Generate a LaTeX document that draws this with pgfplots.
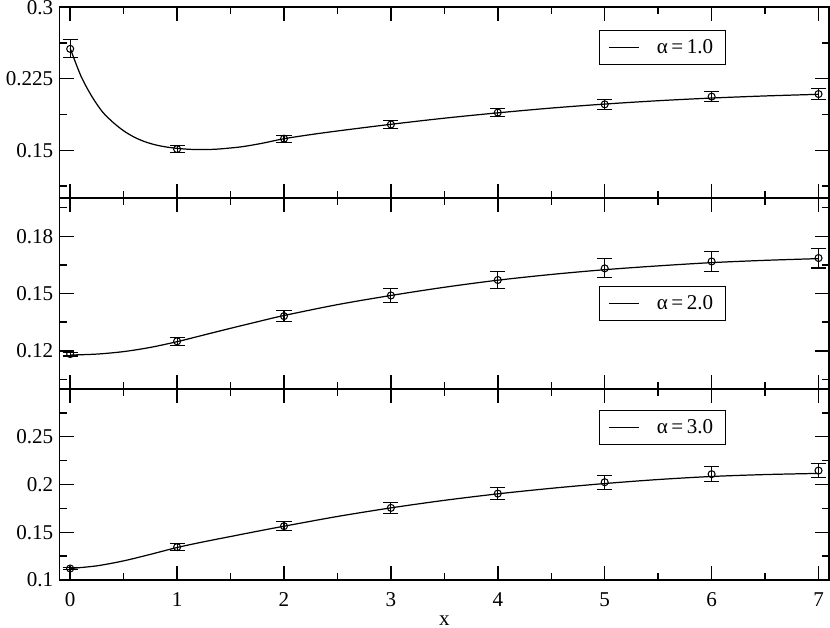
\documentclass[border=0pt]{standalone}
\usepackage{fontspec}
\setmainfont{Liberation Serif}
\usepackage{pgfplots}
\usepackage{pgfplotstable}
\pgfplotsset{compat=1.18}
\usepgfplotslibrary{groupplots}

% measured points with errors, one table per panel
\pgfplotstableread{
x y e
0 0.2563 0.0095
1 0.1514 0.0038
2 0.1622 0.0035
3 0.1771 0.0040
4 0.1896 0.0045
5 0.1982 0.0052
6 0.2063 0.0055
7 0.2090 0.0057
}\dataA
\pgfplotstableread{
x y e
0 0.1183 0.0010
1 0.1250 0.0020
2 0.1382 0.0029
3 0.1490 0.0036
4 0.1571 0.0043
5 0.1632 0.0050
6 0.1668 0.0052
7 0.1686 0.0052
}\dataB
\pgfplotstableread{
x y e
0 0.1120 0.0015
1 0.1344 0.0035
2 0.1564 0.0047
3 0.1755 0.0054
4 0.1905 0.0066
5 0.2024 0.0075
6 0.2108 0.0080
7 0.2146 0.0077
}\dataC

\pgfplotsset{
  pts/.style={forget plot, only marks, mark=o, mark size=2pt, black, line width=0.6pt,
    error bars/.cd, y dir=both, y explicit,
    error bar style={line width=0.6pt},
    error mark options={rotate=90, mark size=4.3pt, line width=0.6pt},
    /pgfplots/.cd},
  fit/.style={no marks, smooth, tension=0.5, black, line width=0.7pt},
}

\begin{document}
\begin{tikzpicture}[font=\fontsize{12}{14}\selectfont]
\begin{groupplot}[
  group style={group size=1 by 3, vertical sep=0pt},
  width=15.4cm, height=3.82cm, scale only axis,
  xmin=-0.1, xmax=7.1,
  xtick={0,...,7}, minor x tick num=1,
  major tick length=8pt, minor tick length=4pt,
  axis line style={line width=0.9pt},
  major tick style={black, line width=0.8pt},
  minor tick style={black, line width=0.8pt},
  /pgf/number format/assume math mode=true,
  yticklabel style={/pgf/number format/fixed, /pgf/number format/precision=3,
    inner ysep=0pt},
  xticklabel style={yshift=-3.5pt},
  xlabel style={inner xsep=0pt, inner ysep=1.5pt},
  tick label style={font=\fontsize{12}{14}\selectfont},
  legend style={draw=black, line width=0.6pt, anchor=north east,
    font=\fontsize{12}{14}\selectfont, inner xsep=5pt, inner ysep=3pt,
    column sep=8pt},
  legend cell align=left,
]
\nextgroupplot[ymin=0.1, ymax=0.3, ytick={0.15,0.225,0.3},
  minor ytick={0.1125,0.1875,0.2625}, xticklabels={},
  legend style={at={(0.866,0.88)}}]
\addplot[fit] coordinates {
  (0,0.257) (0.1,0.228) (0.2,0.207) (0.3,0.1906) (0.4,0.1794) (0.5,0.1705)
  (0.6,0.1638) (0.7,0.1590) (0.8,0.1557) (0.9,0.1535) (1.0,0.1521)
  (1.1,0.1512) (1.2,0.1508) (1.3,0.1509) (1.4,0.1515) (1.6,0.1537)
  (1.8,0.1575) (2.0,0.1622) (2.25,0.1665) (2.5,0.1703) (3.0,0.1773)
  (3.5,0.1837) (4.0,0.1893) (4.5,0.1943) (5.0,0.1985) (5.5,0.2020)
  (6.0,0.2048) (6.5,0.2070) (7.0,0.2087)
};
\addlegendentry{α\,=\,1.0}
\addplot[pts] table[x=x, y=y, y error=e] {\dataA};

\nextgroupplot[ymin=0.1, ymax=0.2, ytick={0.12,0.15,0.18},
  minor ytick={0.105,0.135,0.165,0.195}, xticklabels={},
  legend style={at={(0.866,0.539)}}]
\addplot[fit] coordinates {
  (0,0.1178) (0.25,0.1183) (0.5,0.1196) (0.75,0.1218) (1,0.1248)
  (1.25,0.1283) (1.5,0.1318) (1.75,0.1352) (2,0.1385) (2.5,0.1442)
  (3,0.1490) (3.5,0.1533) (4,0.1570) (4.5,0.1600) (5,0.1625)
  (5.5,0.1645) (6,0.1662) (6.5,0.1674) (7,0.1683)
};
\addlegendentry{α\,=\,2.0}
\addplot[pts] table[x=x, y=y, y error=e] {\dataB};

\nextgroupplot[ymin=0.1, ymax=0.3, ytick={0.1,0.15,0.2,0.25},
  minor ytick={0.125,0.175,0.225,0.275},
  xlabel={x},
  legend style={at={(0.866,0.89)}}]
\addplot[fit] coordinates {
  (0,0.1120) (0.25,0.1148) (0.5,0.1200) (0.75,0.1268) (1,0.1340)
  (1.25,0.1400) (1.5,0.1455) (1.75,0.1510) (2,0.1563) (2.5,0.1665)
  (3,0.1755) (3.5,0.1834) (4,0.1902) (4.5,0.1960) (5,0.2010)
  (5.5,0.2052) (6,0.2084) (6.5,0.2104) (7,0.2116)
};
\addlegendentry{α\,=\,3.0}
\addplot[pts] table[x=x, y=y, y error=e] {\dataC};
\end{groupplot}
\end{tikzpicture}
\end{document}
